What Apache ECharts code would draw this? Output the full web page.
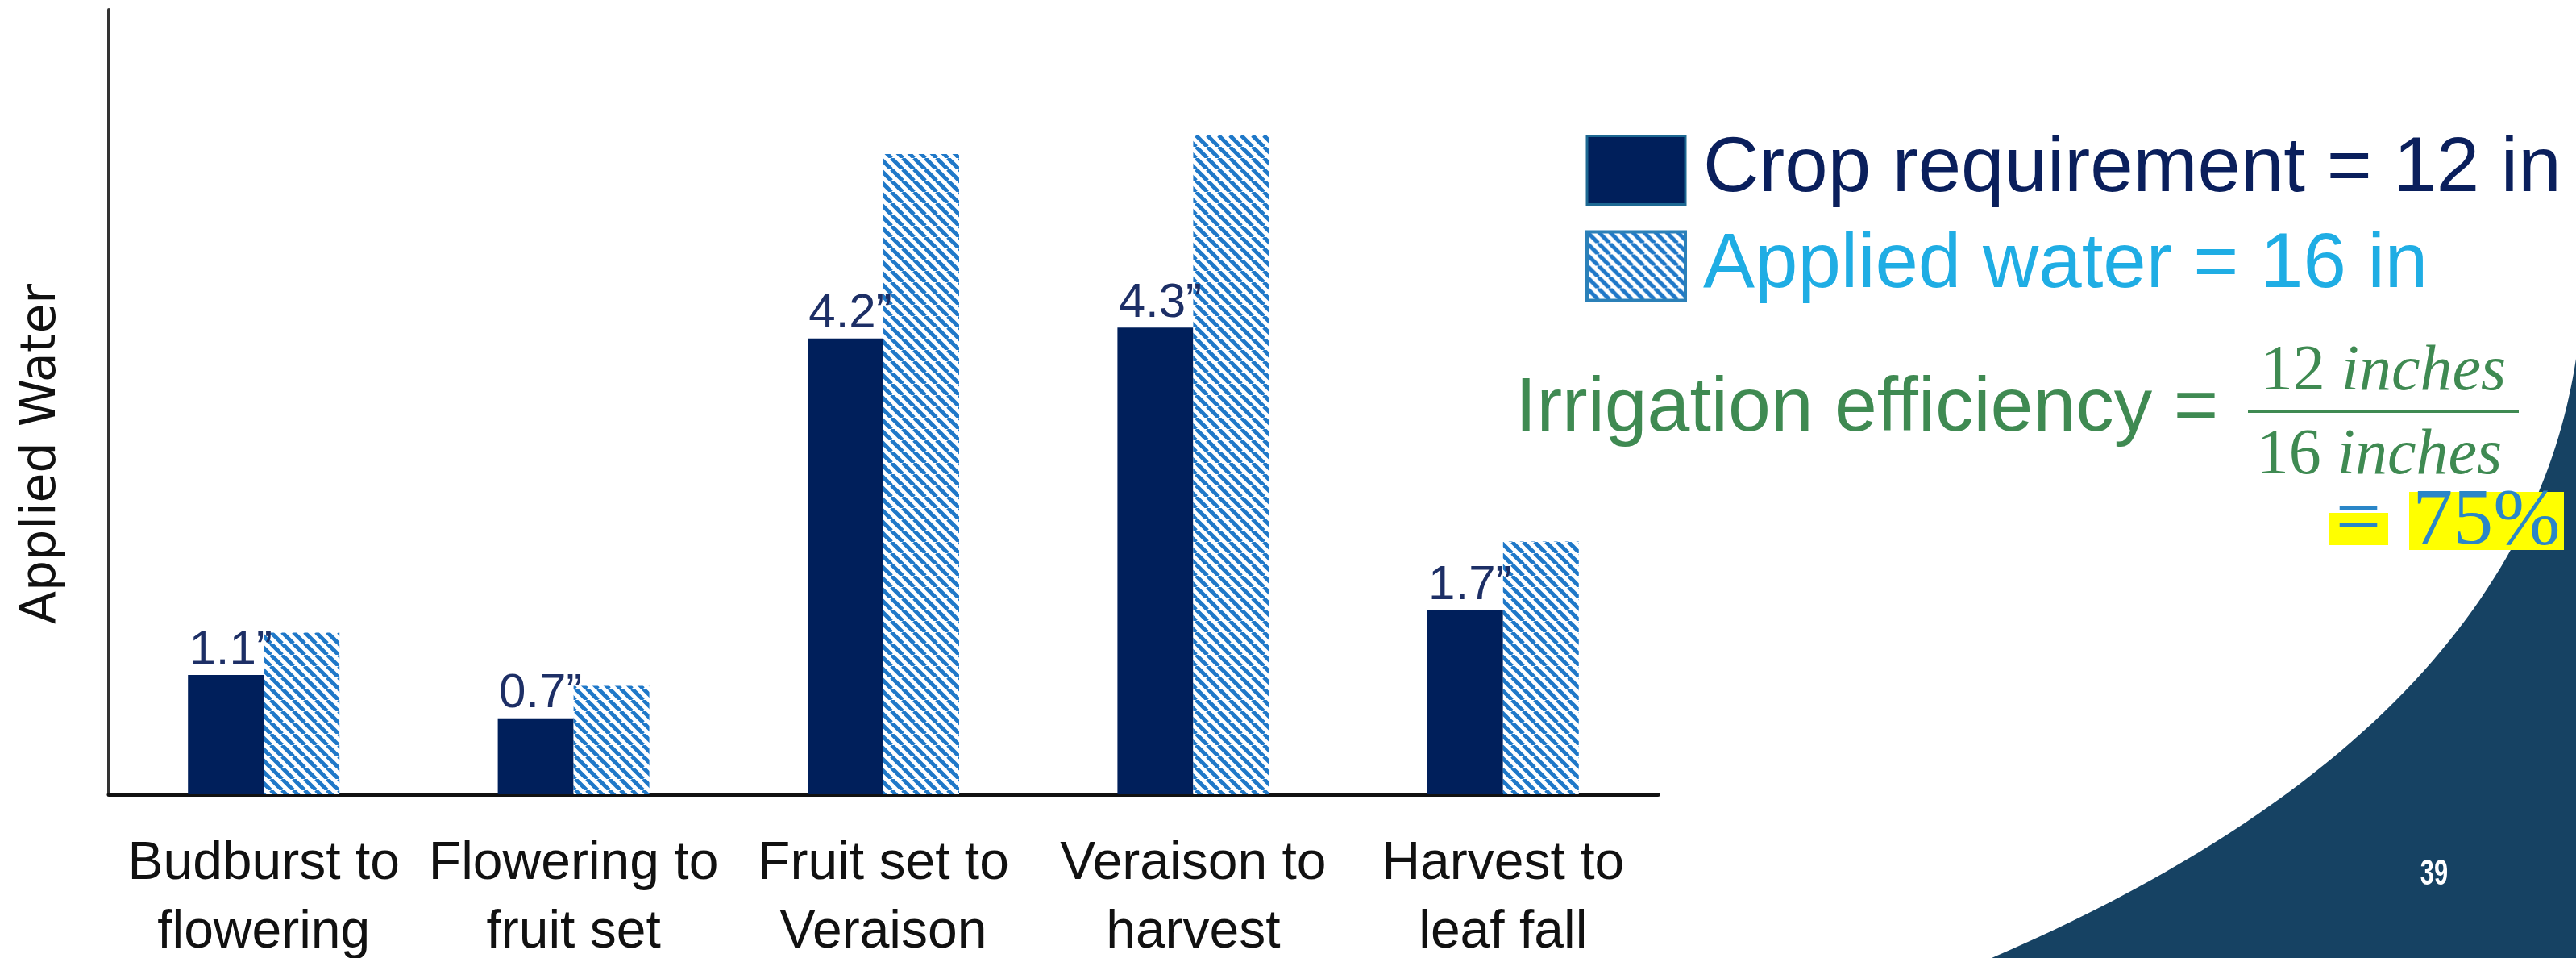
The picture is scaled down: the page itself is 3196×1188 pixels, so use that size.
<!DOCTYPE html>
<html>
<head>
<meta charset="utf-8">
<script src="https://cdn.jsdelivr.net/npm/echarts@6/dist/echarts.min.js"></script>
<style>
  html, body { margin: 0; padding: 0; background: #ffffff; }
  #chart { width: 3196px; height: 1188px; }
</style>
</head>
<body>
<div id="chart"></div>
<script>
// Growth stages of the vine and water per stage (inches)
const stages = [
  'Budburst to\nflowering',
  'Flowering to\nfruit set',
  'Fruit set to\nVeraison',
  'Veraison to\nharvest',
  'Harvest to\nleaf fall'
];
const cropRequirement = [1.1, 0.7, 4.2, 4.3, 1.7];
const appliedWater = [1.49, 1.0, 5.9, 6.07, 2.33];
const seriesNames = ['Crop requirement = 12 in', 'Applied water = 16 in'];
const axisTitle = 'Applied Water';
const efficiencyLabel = 'Irrigation efficiency =';
const numerator = ['12', 'inches'];
const denominator = ['16', 'inches'];
const efficiencyResult = '75%';
const pageNumber = '39';

const NAVY = '#001f5b';
const HATCH_BLUE = '#1f78c8';
const GREEN = '#3f8a52';

// Diagonal "\" hatch tile used for the applied-water bars
function hatchTile(size, color, width) {
  const c = document.createElement('canvas');
  c.width = size; c.height = size;
  const g = c.getContext('2d');
  g.fillStyle = '#ffffff';
  g.fillRect(0, 0, size, size);
  g.strokeStyle = color;
  g.lineWidth = width;
  g.beginPath();
  for (const o of [-size, 0, size]) {
    g.moveTo(o, 0);
    g.lineTo(o + size, size);
  }
  g.stroke();
  return c;
}
const hatch = { image: hatchTile(14, HATCH_BLUE, 5), repeat: 'repeat' };

// Curved corner panel of the slide: a cubic edge closed along the bottom-right corner
function cornerPanel() {
  const p0 = [3196, 445], p1 = [3160, 680], p2 = [3000, 960], p3 = [2471, 1188];
  const pts = [];
  for (let i = 0; i <= 60; i++) {
    const t = i / 60, u = 1 - t;
    const a = u * u * u, b = 3 * u * u * t, c = 3 * u * t * t, d = t * t * t;
    pts.push([a * p0[0] + b * p1[0] + c * p2[0] + d * p3[0],
              a * p0[1] + b * p1[1] + c * p2[1] + d * p3[1]]);
  }
  pts.push([3196, 1188]);
  return pts;
}

const chart = echarts.init(document.getElementById('chart'), null, { renderer: 'canvas' });

chart.setOption({
  backgroundColor: '#ffffff',
  animation: false,
  grid: { left: 135, right: 1139, top: 12, bottom: 203, containLabel: false, outerBoundsMode: 'none' },
  legend: {
    orient: 'vertical',
    left: 1962,
    top: 158,
    icon: 'rect',
    itemWidth: 122,
    itemHeight: 85,
    itemGap: 23,
    selectedMode: false,
    textStyle: {
      fontFamily: 'Liberation Sans, Arial, sans-serif',
      fontSize: 96,
      lineHeight: 85,
      padding: [0, 0, 0, 17]
    },
    data: [
      { name: seriesNames[0], itemStyle: { borderColor: '#1d6892', borderWidth: 3 }, textStyle: { color: '#0a1f5c' } },
      { name: seriesNames[1], itemStyle: { borderColor: '#2b80b8', borderWidth: 4 }, textStyle: { color: '#1fade4' } }
    ]
  },
  xAxis: {
    type: 'category',
    data: stages,
    axisLine: { show: true, lineStyle: { color: '#111111', width: 5 } },
    axisTick: { show: false },
    axisLabel: {
      color: '#111111',
      fontFamily: 'Liberation Sans, Arial, sans-serif',
      fontSize: 66,
      lineHeight: 85,
      margin: 44,
      interval: 0
    }
  },
  yAxis: {
    type: 'value',
    min: 0,
    max: 7.23,
    axisLine: { show: true, lineStyle: { color: '#333333', width: 4 } },
    axisTick: { show: false },
    axisLabel: { show: false },
    splitLine: { show: false }
  },
  series: [
    {
      name: seriesNames[0],
      type: 'bar',
      data: cropRequirement,
      barWidth: 94,
      barGap: '0%',
      itemStyle: { color: NAVY },
      label: {
        show: true,
        position: 'top',
        distance: 0,
        offset: [6, 0],
        color: '#1d2f66',
        fontFamily: 'Liberation Sans, Arial, sans-serif',
        fontSize: 60,
        formatter: p => p.value + '\u201D'
      }
    },
    {
      name: seriesNames[1],
      type: 'bar',
      data: appliedWater,
      barWidth: 94,
      barGap: '0%',
      itemStyle: { color: hatch }
    }
  ],
  graphic: [
    {
      type: 'polygon',
      z: 0,
      shape: { points: cornerPanel() },
      style: { fill: '#164263' }
    },
    {
      type: 'text',
      x: 3020, y: 1085,
      scaleX: 0.7,
      style: {
        text: pageNumber, fill: '#ffffff', align: 'center', verticalAlign: 'middle',
        font: 'bold 44px "Liberation Sans", sans-serif'
      }
    },
    // y axis title
    {
      type: 'text',
      x: 52, y: 563,
      rotation: Math.PI / 2,
      style: {
        text: axisTitle, fill: '#111111', align: 'center', verticalAlign: 'middle',
        font: '60px "DejaVu Sans", sans-serif'
      }
    },
    // efficiency formula
    {
      type: 'text',
      x: 1880, y: 508,
      style: {
        text: efficiencyLabel, fill: GREEN, align: 'left', verticalAlign: 'middle',
        font: '95px "Liberation Sans", Arial, sans-serif'
      }
    },
    {
      type: 'text',
      x: 2957, y: 462,
      style: {
        text: '{n|' + numerator[0] + ' }{i|' + numerator[1] + '}',
        align: 'center', verticalAlign: 'middle',
        rich: {
          n: { fill: GREEN, font: '80px "Liberation Serif", serif' },
          i: { fill: GREEN, font: 'italic 80px "Liberation Serif", serif' }
        }
      }
    },
    {
      type: 'line',
      shape: { x1: 2789, y1: 510, x2: 3125, y2: 510 },
      style: { stroke: GREEN, lineWidth: 4 }
    },
    {
      type: 'text',
      x: 2952, y: 566,
      style: {
        text: '{n|' + denominator[0] + ' }{i|' + denominator[1] + '}',
        align: 'center', verticalAlign: 'middle',
        rich: {
          n: { fill: GREEN, font: '80px "Liberation Serif", serif' },
          i: { fill: GREEN, font: 'italic 80px "Liberation Serif", serif' }
        }
      }
    },
    { type: 'rect', shape: { x: 2890, y: 636, width: 73, height: 40 }, style: { fill: '#ffff00' } },
    { type: 'rect', shape: { x: 2989, y: 610, width: 192, height: 72 }, style: { fill: '#ffff00' } },
    {
      type: 'text',
      x: 2926, y: 648,
      style: {
        text: '=', fill: '#2a86c8', align: 'center', verticalAlign: 'middle',
        font: '100px "Liberation Serif", serif'
      }
    },
    {
      type: 'text',
      x: 3085, y: 648,
      style: {
        text: efficiencyResult, fill: '#2a86c8', align: 'center', verticalAlign: 'middle',
        font: '100px "Liberation Serif", serif'
      }
    }
  ]
});
</script>
</body>
</html>
